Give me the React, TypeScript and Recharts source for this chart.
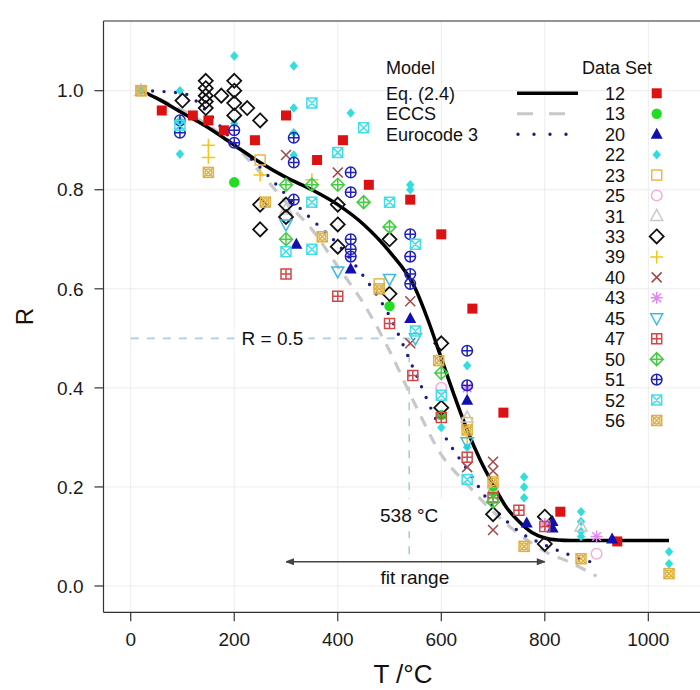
import React from "react";
import {
  ComposedChart,
  Scatter,
  Line,
  XAxis,
  YAxis,
  CartesianGrid,
  ReferenceLine,
  ReferenceDot,
} from "recharts";

const FONT = "'Liberation Sans', Arial, Helvetica, sans-serif";

const tTicks = [0, 200, 400, 600, 800, 1000];
const rTicks = [0, 0.2, 0.4, 0.6, 0.8, 1.0];

// model curves
const eqT = [20, 50, 100, 150, 200, 250, 300, 350, 400, 450, 500, 550, 575, 600, 625, 650, 675, 700, 725, 750, 775, 800, 825, 850, 900, 1000, 1040];
const eqR = [1.0, 0.985, 0.955, 0.925, 0.89, 0.855, 0.825, 0.8, 0.77, 0.73, 0.675, 0.6, 0.535, 0.46, 0.385, 0.315, 0.255, 0.205, 0.16, 0.13, 0.108, 0.097, 0.093, 0.092, 0.092, 0.092, 0.092];

const eccsT = [20, 100, 150, 200, 250, 300, 350, 400, 450, 500, 550, 600, 650, 700, 750, 800, 850, 900];
const eccsR = [1.0, 0.96, 0.93, 0.89, 0.835, 0.775, 0.72, 0.645, 0.57, 0.475, 0.365, 0.265, 0.205, 0.15, 0.105, 0.07, 0.047, 0.02];

const ec3T = [20, 100, 150, 200, 250, 300, 350, 400, 450, 500, 550, 600, 650, 700, 750, 800, 850, 900];
const ec3R = [1.0, 0.995, 0.955, 0.895, 0.845, 0.79, 0.74, 0.69, 0.625, 0.545, 0.43, 0.315, 0.235, 0.16, 0.11, 0.083, 0.062, 0.045];

// data sets [T, R]
const set12 = [[60, 0.96], [120, 0.95], [150, 0.94], [180, 0.92], [240, 0.9], [300, 0.95], [360, 0.86], [410, 0.9], [460, 0.81], [540, 0.78], [600, 0.71], [660, 0.56], [720, 0.35], [830, 0.15], [940, 0.09]];
const set13 = [[200, 0.815], [500, 0.565], [600, 0.345], [700, 0.19]];
const set20 = [[320, 0.69], [425, 0.64], [540, 0.54], [650, 0.375], [765, 0.127], [815, 0.13], [815, 0.117], [930, 0.095]];
const set22 = [[20, 1.0], [95, 1.0], [95, 0.94], [95, 0.872], [200, 1.07], [200, 0.934], [315, 1.05], [315, 0.965], [315, 0.915], [315, 0.87], [425, 0.955], [540, 0.81], [540, 0.8], [600, 0.32], [650, 0.445], [650, 0.28], [760, 0.22], [760, 0.2], [760, 0.178], [870, 0.15], [870, 0.13], [870, 0.11], [870, 0.1], [1040, 0.069], [1040, 0.045]];
const set23 = [[20, 1.0], [250, 0.86], [480, 0.61], [650, 0.33]];
const set25 = [[20, 1.0], [600, 0.4], [700, 0.2], [900, 0.065]];
const set31 = [[20, 1.0], [300, 0.76], [650, 0.34], [870, 0.12]];
const set33 = [[100, 0.98], [145, 1.02], [145, 1.005], [145, 0.99], [145, 0.978], [145, 0.965], [175, 0.99], [200, 1.02], [200, 1.0], [200, 0.975], [200, 0.95], [225, 0.965], [250, 0.94], [250, 0.77], [250, 0.72], [300, 0.77], [300, 0.745], [400, 0.77], [400, 0.73], [400, 0.685], [500, 0.7], [500, 0.59], [600, 0.49], [600, 0.36], [700, 0.145], [800, 0.14], [800, 0.085]];
const set39 = [[150, 0.89], [150, 0.865], [250, 0.83], [350, 0.82], [650, 0.3]];
const set40 = [[300, 0.87], [400, 0.835], [540, 0.575], [540, 0.49], [650, 0.24], [700, 0.251], [700, 0.232], [700, 0.113]];
const set43 = [[650, 0.4], [800, 0.125], [900, 0.1]];
const set45 = [[300, 0.73], [400, 0.635], [500, 0.62], [550, 0.5], [650, 0.29]];
const set47 = [[300, 0.63], [400, 0.585], [500, 0.53], [545, 0.425], [600, 0.34], [650, 0.26], [700, 0.178], [750, 0.153], [800, 0.12]];
const set50 = [[300, 0.81], [300, 0.7], [350, 0.81], [400, 0.81], [450, 0.775], [500, 0.725], [600, 0.43], [700, 0.17]];
const set51 = [[95, 0.94], [95, 0.915], [200, 0.92], [200, 0.895], [315, 0.905], [315, 0.855], [315, 0.78], [425, 0.835], [425, 0.795], [425, 0.7], [425, 0.68], [425, 0.665], [540, 0.71], [540, 0.665], [540, 0.63], [540, 0.61], [650, 0.475], [650, 0.405]];
const set52 = [[95, 0.93], [300, 0.675], [350, 0.975], [350, 0.775], [350, 0.68], [400, 0.875], [450, 0.925], [500, 0.775], [550, 0.69], [550, 0.515], [600, 0.385], [650, 0.215]];
const set56 = [[20, 1.0], [150, 0.835], [260, 0.775], [370, 0.705], [480, 0.6], [595, 0.455], [650, 0.315], [700, 0.21], [760, 0.08], [870, 0.055], [1040, 0.025]];

const dataSets = [
  { id: "12", kind: "sq", color: "#dd1111", pts: set12 },
  { id: "13", kind: "ci", color: "#22dd22", pts: set13 },
  { id: "20", kind: "tri", color: "#1010b0", pts: set20 },
  { id: "22", kind: "dia", color: "#33dddd", pts: set22 },
  { id: "23", kind: "osq", color: "#e8b850", pts: set23 },
  { id: "25", kind: "oci", color: "#f0b0d8", pts: set25 },
  { id: "31", kind: "otri", color: "#c8c8c8", pts: set31 },
  { id: "33", kind: "odia", color: "#111111", pts: set33 },
  { id: "39", kind: "plus", color: "#f5c518", pts: set39 },
  { id: "40", kind: "x", color: "#a04848", pts: set40 },
  { id: "43", kind: "ast", color: "#e088f0", pts: set43 },
  { id: "45", kind: "dtri", color: "#40b8e0", pts: set45 },
  { id: "47", kind: "sqp", color: "#d04848", pts: set47 },
  { id: "50", kind: "diap", color: "#44cc44", pts: set50 },
  { id: "51", kind: "cip", color: "#2222bb", pts: set51 },
  { id: "52", kind: "sqx", color: "#44dde8", pts: set52 },
  { id: "56", kind: "sqc", color: "#e0b040", pts: set56 },
];

const toPts = (t: number[], r: number[]) => t.map((T, i) => ({ T, R: r[i] }));

function Marker({ kind, color, cx, cy }: { kind: string; color: string; cx: number; cy: number }) {
  const sw = 1.5;
  const o = { fill: "none", stroke: color, strokeWidth: sw };
  switch (kind) {
    case "sq":
      return <rect x={cx - 5} y={cy - 5} width={10} height={10} fill={color} />;
    case "ci":
      return <circle cx={cx} cy={cy} r={5.2} fill={color} />;
    case "tri":
      return <polygon points={`${cx},${cy - 6.5} ${cx + 6},${cy + 4.5} ${cx - 6},${cy + 4.5}`} fill={color} />;
    case "dia":
      return <polygon points={`${cx},${cy - 4.8} ${cx + 4.2},${cy} ${cx},${cy + 4.8} ${cx - 4.2},${cy}`} fill={color} />;
    case "osq":
      return <rect x={cx - 5} y={cy - 5} width={10} height={10} {...o} />;
    case "oci":
      return <circle cx={cx} cy={cy} r={5.3} {...o} />;
    case "otri":
      return <polygon points={`${cx},${cy - 6.5} ${cx + 6},${cy + 4.5} ${cx - 6},${cy + 4.5}`} {...o} />;
    case "odia":
      return <polygon points={`${cx},${cy - 7} ${cx + 7},${cy} ${cx},${cy + 7} ${cx - 7},${cy}`} {...o} strokeWidth={1.8} />;
    case "plus":
      return <path d={`M${cx - 6.5},${cy}H${cx + 6.5}M${cx},${cy - 6.5}V${cy + 6.5}`} {...o} />;
    case "x":
      return <path d={`M${cx - 5},${cy - 5}L${cx + 5},${cy + 5}M${cx - 5},${cy + 5}L${cx + 5},${cy - 5}`} {...o} />;
    case "ast":
      return <path d={`M${cx - 6},${cy}H${cx + 6}M${cx},${cy - 6}V${cy + 6}M${cx - 4.3},${cy - 4.3}L${cx + 4.3},${cy + 4.3}M${cx - 4.3},${cy + 4.3}L${cx + 4.3},${cy - 4.3}`} {...o} />;
    case "dtri":
      return <polygon points={`${cx},${cy + 6.5} ${cx + 6},${cy - 4.5} ${cx - 6},${cy - 4.5}`} {...o} />;
    case "sqp":
      return <path d={`M${cx - 5},${cy - 5}h10v10h-10zM${cx - 5},${cy}H${cx + 5}M${cx},${cy - 5}V${cy + 5}`} {...o} />;
    case "diap":
      return <path d={`M${cx},${cy - 6.5}L${cx + 6.5},${cy}L${cx},${cy + 6.5}L${cx - 6.5},${cy}zM${cx - 6.5},${cy}H${cx + 6.5}M${cx},${cy - 6.5}V${cy + 6.5}`} {...o} />;
    case "cip":
      return (
        <g {...o}>
          <circle cx={cx} cy={cy} r={5.3} />
          <path d={`M${cx - 5.3},${cy}H${cx + 5.3}M${cx},${cy - 5.3}V${cy + 5.3}`} />
        </g>
      );
    case "sqx":
      return <path d={`M${cx - 5},${cy - 5}h10v10h-10zM${cx - 5},${cy - 5}L${cx + 5},${cy + 5}M${cx - 5},${cy + 5}L${cx + 5},${cy - 5}`} {...o} />;
    case "sqc":
      return (
        <g {...o}>
          <rect x={cx - 5} y={cy - 5} width={10} height={10} />
          <circle cx={cx} cy={cy} r={3.4} />
          <path d={`M${cx - 5},${cy - 5}L${cx + 5},${cy + 5}M${cx - 5},${cy + 5}L${cx + 5},${cy - 5}`} />
        </g>
      );
    default:
      return null;
  }
}

const xDomain = [-52.6, 1109.5];
const yDomain = [-0.0531, 1.1407];

const annoColor = "#a7cfe0";

function Legend() {
  const rowY = (i: number) => 93.3 + 20.45 * i;
  const txt = { fontFamily: FONT, fontSize: 18, fill: "#111" };
  return (
    <svg width={700} height={690} style={{ position: "absolute", left: 0, top: 0, pointerEvents: "none" }}>
      <text x={386} y={74} {...txt}>Model</text>
      <text x={386} y={rowY(0) + 6.5} {...txt}>Eq. (2.4)</text>
      <text x={386} y={rowY(1) + 6.5} {...txt}>ECCS</text>
      <text x={386} y={rowY(2) + 6.5} {...txt}>Eurocode 3</text>
      <line x1={517} x2={578} y1={rowY(0)} y2={rowY(0)} stroke="#000" strokeWidth={3.5} />
      <line x1={517} x2={565} y1={rowY(1)} y2={rowY(1)} stroke="#c8c8c8" strokeWidth={3.2} strokeDasharray="16 16" />
      <line x1={518} x2={568} y1={rowY(2)} y2={rowY(2)} stroke="#1c1c8a" strokeWidth={3.4} strokeDasharray="0 16" strokeLinecap="round" />
      <text x={582} y={74} {...txt}>Data Set</text>
      {dataSets.map((s, i) => (
        <g key={s.id}>
          <text x={625} y={rowY(i) + 6.5} textAnchor="end" {...txt}>{s.id}</text>
          <Marker kind={s.kind} color={s.color} cx={656.7} cy={rowY(i)} />
        </g>
      ))}
      <text x={403} y={683} textAnchor="middle" fontFamily={FONT} fontSize={26} fill="#111">T /°C</text>
      <text x={25} y={316.7} textAnchor="middle" dominantBaseline="central" fontFamily={FONT} fontSize={24} fill="#111" transform="rotate(-90 25 316.7)">R</text>
    </svg>
  );
}

export default function App() {
  return (
    <div style={{ position: "absolute", left: 0, top: 0, width: 700, height: 690, overflow: "hidden", background: "#fff" }}>
      <ComposedChart width={720} height={690} margin={{ top: 20, right: 15, bottom: 0, left: 0 }}>
        <CartesianGrid stroke="#ececec" strokeWidth={1} />
        <XAxis
          dataKey="T"
          type="number"
          domain={xDomain}
          allowDataOverflow
          ticks={tTicks}
          height={77.7}
          tickSize={9}
          tickMargin={11}
          stroke="#333"
          strokeWidth={1.2}
          tick={{ fill: "#1a1a1a", fontSize: 19, fontFamily: FONT }}
        />
        <XAxis
          xAxisId="top"
          orientation="top"
          dataKey="T"
          type="number"
          domain={xDomain}
          allowDataOverflow
          ticks={tTicks}
          height={1}
          tickSize={9}
          tick={false}
          stroke="#333"
          strokeWidth={1.2}
        />
        <YAxis
          dataKey="R"
          type="number"
          domain={yDomain}
          allowDataOverflow
          ticks={rTicks}
          width={103.5}
          tickSize={9}
          tickMargin={11}
          stroke="#333"
          strokeWidth={1.2}
          tickFormatter={(v: number) => v.toFixed(1)}
          tick={{ fill: "#1a1a1a", fontSize: 19, fontFamily: FONT }}
        />
        <ReferenceLine segment={[{ x: 0, y: 0.5 }, { x: 538, y: 0.5 }]} stroke={annoColor} strokeWidth={1.6} strokeDasharray="8 8" />
        <ReferenceLine segment={[{ x: 538, y: 0.5 }, { x: 538, y: 0.05 }]} stroke={annoColor} strokeWidth={1.6} strokeDasharray="8 8" />
        <ReferenceLine segment={[{ x: 300, y: 0.049 }, { x: 800, y: 0.049 }]} stroke="#444" strokeWidth={1.3} />
        <ReferenceDot
          x={300}
          y={0.049}
          r={1}
          shape={(p: any) => <path d={`M${p.cx + 8},${p.cy - 3}L${p.cx},${p.cy}L${p.cx + 8},${p.cy + 3}`} fill="#444" stroke="#444" strokeWidth={1} />}
        />
        <ReferenceDot
          x={800}
          y={0.049}
          r={1}
          shape={(p: any) => <path d={`M${p.cx - 8},${p.cy - 3}L${p.cx},${p.cy}L${p.cx - 8},${p.cy + 3}`} fill="#444" stroke="#444" strokeWidth={1} />}
        />
        {dataSets.map((s) => (
          <Scatter
            key={s.id}
            name={s.id}
            data={s.pts.map(([T, R]) => ({ T, R }))}
            dataKey="R"
            isAnimationActive={false}
            shape={(p: any) => <Marker kind={s.kind} color={s.color} cx={p.cx} cy={p.cy} />}
          />
        ))}
        <Line data={toPts(eccsT, eccsR)} dataKey="R" type="monotone" stroke="#c8c8c8" strokeWidth={3.2} strokeDasharray="11 9" dot={false} activeDot={false} isAnimationActive={false} />
        <Line data={toPts(ec3T, ec3R)} dataKey="R" type="monotone" stroke="#1c1c8a" strokeWidth={3.4} strokeDasharray="0 11.5" strokeLinecap="round" dot={false} activeDot={false} isAnimationActive={false} />
        <Line data={toPts(eqT, eqR)} dataKey="R" type="monotone" stroke="#000" strokeWidth={3.5} dot={false} activeDot={false} isAnimationActive={false} />
        <ReferenceDot
          x={270}
          y={0.5}
          r={1}
          shape={(p: any) => (
            <g>
              <rect x={p.cx - 36} y={p.cy - 11} width={74} height={22} fill="#fff" />
              <text x={p.cx + 2} y={p.cy + 7} textAnchor="middle" fontFamily={FONT} fontSize={19} fill="#111">R = 0.5</text>
            </g>
          )}
        />
        <ReferenceDot
          x={538}
          y={0.143}
          r={1}
          shape={(p: any) => (
            <g>
              <rect x={p.cx - 38} y={p.cy - 16} width={76} height={32} fill="#fff" />
              <text x={p.cx} y={p.cy + 7} textAnchor="middle" fontFamily={FONT} fontSize={19} fill="#111">538 °C</text>
            </g>
          )}
        />
        <ReferenceDot
          x={549}
          y={0.016}
          r={1}
          shape={(p: any) => (
            <text x={p.cx} y={p.cy + 6} textAnchor="middle" fontFamily={FONT} fontSize={19} fill="#111">fit range</text>
          )}
        />
      </ComposedChart>
      <Legend />
    </div>
  );
}
